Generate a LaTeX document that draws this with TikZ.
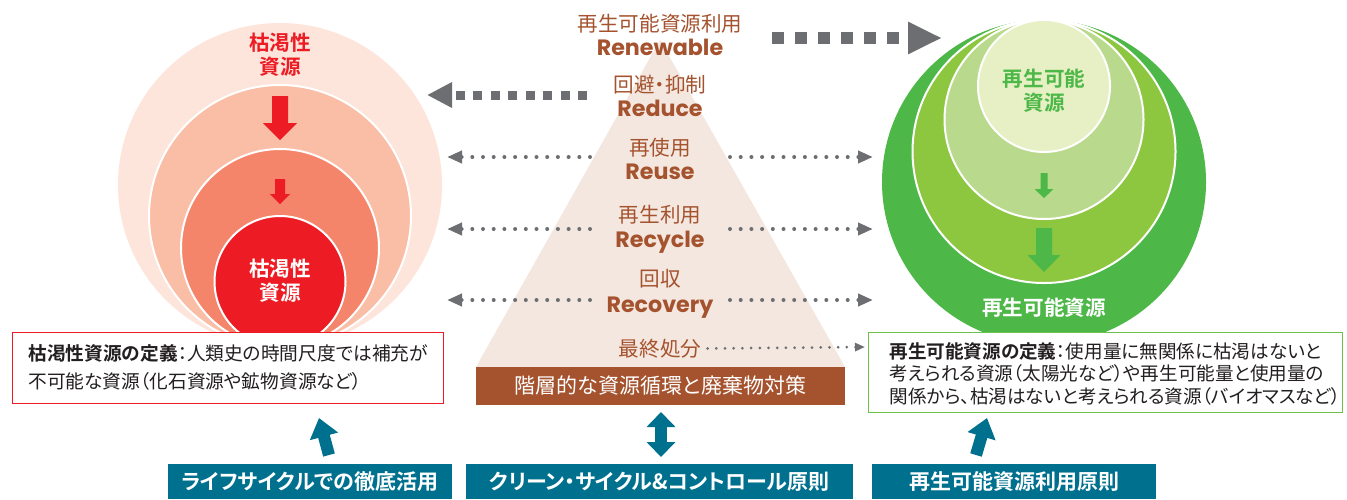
\documentclass[tikz,border=0pt]{standalone}
\usepackage{fontspec}
\usetikzlibrary{arrows.meta}
\newfontfamily\jp{Noto Sans CJK JP}[BoldFont={Noto Sans CJK JP Bold},RawFeature=+palt]
\newfontfamily\en{Poppins}
\definecolor{peachA}{HTML}{FDE5DB}
\definecolor{peachB}{HTML}{F9BEA5}
\definecolor{peachC}{HTML}{F4846A}
\definecolor{redD}{HTML}{ED1C24}
\definecolor{greenA}{HTML}{4DB848}
\definecolor{greenB}{HTML}{8DC63F}
\definecolor{greenC}{HTML}{B9DA8C}
\definecolor{greenD}{HTML}{E6F0C4}
\definecolor{boxgreen}{HTML}{6CC24A}
\definecolor{grayA}{HTML}{6D6E71}
\definecolor{brownA}{HTML}{A5532F}
\definecolor{beigeA}{HTML}{F3E7DF}
\definecolor{tealA}{HTML}{00708F}
\definecolor{darkT}{HTML}{231F20}
\newcommand\bdarrow[7]{%
  \fill[#1] ({#2-#6},#3) -- ({#2+#6},#3) -- ({#2+#6},#4) -- ({#2+#7},#4) -- (#2,#5)
    -- ({#2-#7},#4) -- ({#2-#6},#4) -- cycle;}
\begin{document}
\begin{tikzpicture}[x=0.5pt,y=-0.5pt,
  jpl/.style={font=\jp\fontsize{10.3pt}{12pt}\selectfont, text=brownA, inner sep=0pt},
  enl/.style={font=\en\bfseries\fontsize{11.1pt}{14pt}\selectfont, text=brownA, inner sep=0pt, anchor=base},
  circlbl/.style={font=\jp\bfseries\fontsize{10.3pt}{12pt}\selectfont, align=center, inner sep=0pt},
  deftext/.style={text=darkT, align=left, inner sep=0pt, anchor=west},
  defbox/.style={fill=white, line width=0.6pt, inner sep=0pt, anchor=north west},
  banner/.style={fill=tealA, text=white, font=\jp\bfseries\fontsize{10.5pt}{12pt}\selectfont, inner sep=0pt, minimum height=17.5pt, minimum width=142pt},
  ring/.style={draw=white, line width=1pt},
  dotarr/.style={draw=grayA, line width=2pt, line cap=round, dash pattern=on 0pt off 5.35pt, -{Triangle[width=6pt,length=7.5pt]}},
  smalldot/.style={draw=grayA, line width=1.5pt, line cap=round, dash pattern=on 0pt off 4.35pt, -{Triangle[width=4pt,length=5pt]}},
  sqarrA/.style={draw=grayA, line width=6pt, dash pattern=on 6pt off 5.5pt, -{Triangle[width=15pt,length=17pt]}},
  sqarrB/.style={draw=grayA, line width=4.5pt, dash pattern=on 4.5pt off 4.25pt, -{Triangle[width=12pt,length=12.5pt]}},
  tealarr/.style={draw=tealA, line width=6pt, -{Triangle[width=14pt,length=9.5pt]}},
  tealdbl/.style={draw=tealA, line width=6pt, {Triangle[width=14pt,length=7.5pt]}-{Triangle[width=14pt,length=7.5pt]}}
]
\useasboundingbox (0,0) rectangle (1347,499);
\fill[white] (0,0) rectangle (1347,499);

% left circles (non-renewable)
\fill[peachA] (280,185) circle[radius=162];
\filldraw[fill=peachB, ring] (280,216) circle[radius=131];
\filldraw[fill=peachC, ring] (280,248) circle[radius=99];
\filldraw[fill=redD, ring] (280,281.5) circle[radius=65.5];
\bdarrow{redD}{280}{96}{123}{140}{8}{17}
\bdarrow{redD}{280}{179}{194}{204}{5}{10}
\node[circlbl, text=redD] (ltop) at (280,54.5) {枯渇性\\資源};
\node[circlbl, text=white] (lin) at (280,281) {枯渇性\\資源};

% right circles (renewable)
\fill[greenA] (1044,182) circle[radius=162];
\filldraw[fill=greenB, ring] (1044,151.5) circle[radius=131.5];
\filldraw[fill=greenC, ring] (1044,119.5) circle[radius=99.5];
\filldraw[fill=greenD, ring] (1044,86) circle[radius=66];
\bdarrow{greenA}{1044}{173}{189}{198}{3.5}{9.5}
\bdarrow{greenA}{1044}{228}{255}{272}{8}{16.5}
\node[circlbl, text=greenA] (rin) at (1044,91) {再生可能\\資源};
\node[circlbl, text=white] (rout) at (1044,308) {再生可能資源};

% pyramid
\fill[beigeA] (660,40) -- (845,367) -- (476,367) -- cycle;
\node[fill=brownA, text=white, font=\jp\fontsize{10.5pt}{12pt}\selectfont, inner sep=0pt,
  minimum width=184.5pt, minimum height=19pt] (bar) at (660.5,386) {階層的な資源循環と廃棄物対策};

\node[jpl] (renjp) at (660,23.5) {再生可能資源利用};
\node[enl] (renen) at (660,55) {Renewable};
\node[jpl] (redjp) at (660,85) {回避・抑制};
\node[enl] (reden) at (660,116) {Reduce};
\node[jpl] (reujp) at (660,148) {再使用};
\node[enl] (reuen) at (660,179) {Reuse};
\node[jpl] (recjp) at (660,215) {再生利用};
\node[enl] (recen) at (660,247) {Recycle};
\node[jpl] (rcvjp) at (660,279) {回収};
\node[enl] (rcven) at (660,312) {Recovery};
\node[jpl] (fin) at (660,348.5) {最終処分};

% gray connectors
\coordinate (renS) at (772,38);  \coordinate (renE) at (942,38);
\coordinate (redS) at (587,95);  \coordinate (redE) at (427,95);
\draw[sqarrA] (renS) -- (renE);
\draw[sqarrB] (redS) -- (redE);
\foreach \n/\yy in {reu/157, rec/229, rcv/300}{
  \coordinate (\n L1) at (590,\yy); \coordinate (\n L2) at (447,\yy);
  \coordinate (\n R1) at (730,\yy); \coordinate (\n R2) at (873,\yy);
  \draw[dotarr] (\n L1) -- (\n L2);
  \draw[dotarr] (\n R1) -- (\n R2);
}
\coordinate (finE) at (865,347);
\draw[smalldot] (fin.east) ++(6,0) coordinate (finS) (finS) -- (finE);

% definition boxes
\node[defbox, draw=redD, minimum width=215.5pt, minimum height=35.5pt] (lbox) at (12,332) {};
\node[deftext, font=\jp\fontsize{9.35pt}{14pt}\selectfont] (ltext) at (28,367)
  {\textbf{枯渇性資源の定義}：人類史の時間尺度では補充が\\不可能な資源（化石資源や鉱物資源など）};
\node[defbox, draw=boxgreen, minimum width=237pt, minimum height=40pt] (rbox) at (868,332) {};
\node[deftext, font=\jp\fontsize{9.3pt}{11.25pt}\selectfont] (rtext) at (889,373.5)
  {\textbf{再生可能資源の定義}：使用量に無関係に枯渇はないと\\考えられる資源（太陽光など）や再生可能量と使用量の\\関係から、枯渇はないと考えられる資源（バイオマスなど）};

% banners
\node[banner] (b1) at (310,481.5) {ライフサイクルでの徹底活用};
\node[banner, minimum width=193.5pt] (b2) at (659.5,481.5) {クリーン・サイクル\&コントロール原則};
\node[banner] (b3) at (1014,481.5) {再生可能資源利用原則};

% teal arrows
\coordinate (a1s) at (329,455); \coordinate (a1e) at (319,418);
\coordinate (a3s) at (976,455); \coordinate (a3e) at (987,418);
\coordinate (a2s) at (661,412); \coordinate (a2e) at (661,457);
\draw[tealarr] (a1s) -- (a1e);
\draw[tealarr] (a3s) -- (a3e);
\draw[tealdbl] (a2s) -- (a2e);
\end{tikzpicture}
\end{document}
